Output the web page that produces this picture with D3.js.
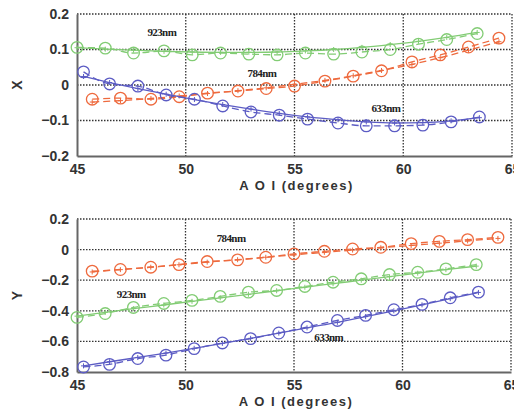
<!DOCTYPE html>
<html>
<head>
<meta charset="utf-8">
<script src="https://cdn.jsdelivr.net/npm/d3@7"></script>
<style>
  body { margin: 0; background: #fff; }
  svg { display: block; }
  .tick text { font-family: 'Liberation Sans', Arial, sans-serif; font-weight: bold; font-size: 14px; fill: #333; }
  .grid line { stroke: #333; stroke-width: 1.3; stroke-dasharray: 1.5 1.5; }
  .axislabel { font-family: 'Liberation Sans', Arial, sans-serif; font-weight: bold; font-size: 13px; fill: #333; }
  .nm { font-family: 'Liberation Serif', 'Times New Roman', serif; font-weight: bold; font-size: 11px; fill: #222; letter-spacing: -0.6px; }
</style>
</head>
<body>
<script>
// AOI sample positions for each wavelength
var aoi633 = [45.3, 46.5, 47.8, 49.1, 50.4, 51.7, 53.0, 54.3, 55.6, 57.0, 58.3, 59.6, 60.9, 62.2, 63.5];
var aoi784 = [45.7, 47.0, 48.4, 49.7, 51.0, 52.4, 53.7, 55.0, 56.4, 57.7, 59.0, 60.4, 61.7, 63.0, 64.4];
var aoi923 = [45.0, 46.3, 47.6, 49.0, 50.3, 51.6, 52.9, 54.2, 55.5, 56.8, 58.1, 59.4, 60.7, 62.0, 63.4];

// X panel: measured (circles) and fitted (+)
var x633 = [0.037, 0.003, -0.003, -0.028, -0.040, -0.059, -0.076, -0.085, -0.096, -0.107, -0.115, -0.115, -0.113, -0.104, -0.090];
var x633fit = [0.024, 0.007, -0.010, -0.026, -0.041, -0.055, -0.068, -0.080, -0.090, -0.098, -0.104, -0.107, -0.106, -0.101, -0.092];
var x784 = [-0.040, -0.037, -0.040, -0.033, -0.023, -0.017, -0.010, -0.003, 0.011, 0.025, 0.040, 0.065, 0.085, 0.107, 0.132];
var x784fit = [-0.048, -0.044, -0.038, -0.031, -0.024, -0.016, -0.008, 0.002, 0.013, 0.026, 0.041, 0.058, 0.077, 0.098, 0.122];
var x923 = [0.106, 0.104, 0.090, 0.096, 0.085, 0.090, 0.087, 0.085, 0.090, 0.087, 0.093, 0.100, 0.115, 0.128, 0.145];
var x923fit = [0.105, 0.101, 0.098, 0.095, 0.093, 0.092, 0.092, 0.093, 0.096, 0.100, 0.106, 0.114, 0.123, 0.134, 0.148];

// Y panel
var y633 = [-0.767, -0.750, -0.712, -0.690, -0.647, -0.610, -0.582, -0.545, -0.506, -0.463, -0.430, -0.393, -0.358, -0.315, -0.278];
var y633fit = [-0.760, -0.733, -0.705, -0.676, -0.645, -0.613, -0.580, -0.546, -0.511, -0.475, -0.438, -0.400, -0.361, -0.321, -0.280];
var y784 = [-0.141, -0.130, -0.115, -0.098, -0.078, -0.067, -0.050, -0.028, -0.011, 0.004, 0.015, 0.039, 0.054, 0.065, 0.080];
var y784fit = [-0.146, -0.131, -0.115, -0.099, -0.082, -0.066, -0.050, -0.034, -0.018, -0.003, 0.012, 0.027, 0.042, 0.057, 0.073];
var y923 = [-0.443, -0.418, -0.378, -0.352, -0.332, -0.306, -0.278, -0.267, -0.241, -0.213, -0.191, -0.163, -0.148, -0.126, -0.098];
var y923fit = [-0.435, -0.410, -0.386, -0.362, -0.338, -0.315, -0.292, -0.269, -0.246, -0.223, -0.200, -0.177, -0.154, -0.131, -0.108];

var xTicks = [45, 50, 55, 60, 65];
var xTopTicks = [-0.2, -0.1, 0, 0.1, 0.2];
var yBotTicks = [-0.8, -0.6, -0.4, -0.2, 0, 0.2];

var colors = {'633nm': '#5c5cc4', '784nm': '#ee6a3e', '923nm': '#82cc74'};

var svg = d3.select('body').append('svg')
  .attr('width', 514)
  .attr('height', 411);

function tickFmt(d) {
  return d === 0 ? '0' : d3.format('.1f')(d);
}

function drawPanel(box, yDomain, yTicks, yName, series, labels) {
  var x = d3.scaleLinear().domain([45, 65]).range([box.left, box.right]);
  var y = d3.scaleLinear().domain(yDomain).range([box.bottom, box.top]);
  var g = svg.append('g');

  // dotted grid
  g.append('g').attr('class', 'grid')
    .selectAll('line.v').data(xTicks.slice(1)).enter().append('line')
    .attr('x1', function(d) { return x(d); })
    .attr('x2', function(d) { return x(d); })
    .attr('y1', box.top).attr('y2', box.bottom);
  g.append('g').attr('class', 'grid')
    .selectAll('line.h').data(yTicks.slice(1)).enter().append('line')
    .attr('x1', box.left).attr('x2', box.right)
    .attr('y1', function(d) { return y(d); })
    .attr('y2', function(d) { return y(d); });

  var xAxis = g.append('g')
    .attr('transform', 'translate(0,' + box.bottom + ')')
    .call(d3.axisBottom(x).tickValues(xTicks).tickSize(0).tickPadding(8).tickFormat(d3.format('d')));
  var yAxis = g.append('g')
    .attr('transform', 'translate(' + box.left + ',0)')
    .call(d3.axisLeft(y).tickValues(yTicks).tickSize(0).tickPadding(8).tickFormat(tickFmt));
  [xAxis, yAxis].forEach(function(a) {
    a.select('.domain').attr('stroke', '#666').attr('stroke-width', 2);
  });

  g.append('text').attr('class', 'axislabel')
    .attr('x', (box.left + box.right) / 2 + 2)
    .attr('y', box.bottom + 34)
    .attr('text-anchor', 'middle')
    .style('letter-spacing', '1.5px')
    .text('A O I (degrees)');
  g.append('text').attr('class', 'axislabel')
    .attr('transform', 'translate(22,' + (box.top + box.bottom) / 2 + ') rotate(-90)')
    .attr('text-anchor', 'middle')
    .style('font-size', '14px')
    .text(yName);

  var line = d3.line()
    .x(function(d) { return x(d[0]); })
    .y(function(d) { return y(d[1]); })
    .curve(d3.curveMonotoneX);

  series.forEach(function(s) {
    var c = colors[s.name];
    var meas = d3.zip(s.aoi, s.meas);
    var fit = d3.zip(s.aoi, s.fit);
    var sg = g.append('g').attr('stroke', c).attr('fill', 'none');
    sg.append('path').datum(fit)
      .attr('d', line)
      .attr('stroke-width', 1.3)
      .attr('stroke-dasharray', s.fitDash || null);
    sg.append('path').datum(meas)
      .attr('d', line)
      .attr('stroke-width', 1.3)
      .attr('stroke-dasharray', '7 4');
    sg.selectAll('circle').data(meas).enter().append('circle')
      .attr('cx', function(d) { return x(d[0]); })
      .attr('cy', function(d) { return y(d[1]); })
      .attr('r', 5.8)
      .attr('stroke-width', 1.3);
    sg.selectAll('path.plus').data(fit).enter().append('path')
      .attr('class', 'plus')
      .attr('d', function(d) {
        var px = x(d[0]), py = y(d[1]);
        return 'M' + (px - 2.5) + ',' + py + 'H' + (px + 2.5) + 'M' + px + ',' + (py - 2.5) + 'V' + (py + 2.5);
      })
      .attr('stroke-width', 1);
  });

  labels.forEach(function(l) {
    g.append('text').attr('class', 'nm')
      .attr('x', x(l.aoi)).attr('y', y(l.v))
      .attr('text-anchor', 'middle')
      .attr('dy', '.35em')
      .text(l.name);
  });
}

drawPanel({left: 77, right: 512, top: 14, bottom: 156}, [-0.2, 0.2], xTopTicks, 'X', [
  {name: '923nm', aoi: aoi923, meas: x923, fit: x923fit},
  {name: '784nm', aoi: aoi784, meas: x784, fit: x784fit, fitDash: '7 4'},
  {name: '633nm', aoi: aoi633, meas: x633, fit: x633fit}
], [
  {name: '923nm', aoi: 48.9, v: 0.150},
  {name: '784nm', aoi: 53.5, v: 0.034},
  {name: '633nm', aoi: 59.2, v: -0.065}
]);

drawPanel({left: 77, right: 511, top: 219, bottom: 372}, [-0.8, 0.2], yBotTicks, 'Y', [
  {name: '784nm', aoi: aoi784, meas: y784, fit: y784fit, fitDash: '7 4'},
  {name: '923nm', aoi: aoi923, meas: y923, fit: y923fit},
  {name: '633nm', aoi: aoi633, meas: y633, fit: y633fit}
], [
  {name: '784nm', aoi: 52.1, v: 0.072},
  {name: '923nm', aoi: 47.5, v: -0.288},
  {name: '633nm', aoi: 56.6, v: -0.575}
]);
</script>
</body>
</html>
